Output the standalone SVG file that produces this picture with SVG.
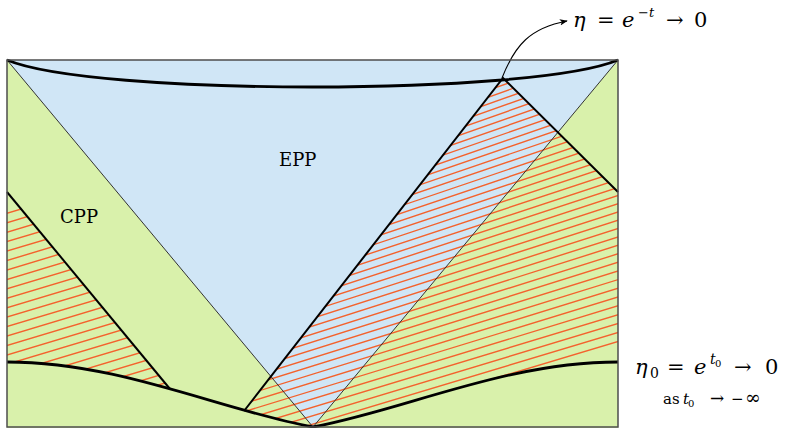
<svg xmlns="http://www.w3.org/2000/svg" width="785" height="428" viewBox="0 0 785 428">
<style>
.green{fill:#d9f1ab}
.blue{fill:#d0e6f6}
.hatch{fill:none;stroke:#f4622d;stroke-width:1.4}
.thin{fill:none;stroke:#333;stroke-width:1}
.thick{fill:none;stroke:#000;stroke-width:2}
.curve{fill:none;stroke:#000;stroke-width:2.8}
.lbl{font-family:"DejaVu Serif","Liberation Serif",serif;fill:#000}
.it{font-style:italic}
</style>
<defs>
<clipPath id="clipL"><polygon points="7,192 170,389 170,440 7,440"/></clipPath>
<clipPath id="clipR"><polygon points="244,411 503,78 618,192 618,440 244,440"/></clipPath>
<marker id="ah" viewBox="0 0 10 10" refX="9" refY="5" markerWidth="8" markerHeight="8" markerUnits="userSpaceOnUse" orient="auto">
<path d="M0,1 L10,5 L0,9 L2.5,5 Z" fill="#000"/>
</marker>
</defs>
<g id="background">
<rect class="green" x="7" y="60" width="611" height="367"/>
<polygon id="epp-region" class="blue" points="7,60 618,60 313,427"/>
</g>
<g id="hatching">
<path class="hatch" clip-path="url(#clipL)" d="M0,215.4L180,161.4M0,224.8L180,170.8M0,234.3L180,180.3M0,243.7L180,189.7M0,253.2L180,199.2M0,262.6L180,208.6M0,272L180,218M0,281.5L180,227.5M0,290.9L180,236.9M0,300.4L180,246.4M0,309.8L180,255.8M0,319.2L180,265.2M0,328.7L180,274.7M0,338.1L180,284.1M0,347.6L180,293.6M0,357L180,303M0,366.4L180,312.4M0,375.9L180,321.9M0,385.3L180,331.3M0,394.8L180,340.8M0,404.2L180,350.2M0,413.6L180,359.6M0,423.1L180,369.1M0,432.5L180,378.5"/>
<path class="hatch" clip-path="url(#clipR)" d="M240,172.8L620,36M240,179.2L620,43M240,185.9L620,50.1M240,192.2L620,57.2M240,198.8L620,64.4M240,205.4L620,71.7M240,212.1L620,79M240,218.8L620,86.3M240,225.6L620,93.7M240,232.5L620,101.2M240,239.3L620,108.7M240,246.3L620,116.3M240,253.3L620,123.9M240,260.4L620,131.6M240,267.5L620,139.3M240,274.6L620,147.1M240,281.9L620,154.9M240,289.1L620,162.8M240,296.5L620,170.8M240,303.9L620,178.8M240,311.3L620,186.8M240,318.8L620,194.9M240,326.3L620,203.1M240,333.9L620,211.3M240,341.6L620,219.6M240,349.3L620,227.9M240,357.1L620,236.3M240,364.9L620,244.7M240,372.7L620,253.2M240,380.7L620,261.7M240,388.6L620,270.3M240,396.7L620,279M240,404.8L620,287.7M240,412.9L620,296.4M240,421.1L620,305.2M240,429.3L620,314.1M240,437.7L620,323M240,446L620,332M240,454.4L620,341"/>
<path id="lower-region" class="green" d="M7,362 C120,362 220,410 313,427 C405,410 505,362 618,362 L618,428 L7,428 Z"/>
</g>
<g id="connectors">
<path class="thin" d="M7,60 L313,427 M618,60 L313,427"/>
<path class="thick" d="M7,192 L170,389"/>
<path class="thick" d="M244,411 L503,78 L618,192"/>
<path class="curve" d="M7,60 C50,78 180,87 312.5,87 C445,87 575,78 618,60"/>
<path class="curve" d="M7,362 C120,362 220,410 313,427 C405,410 505,362 618,362"/>
<path fill="none" stroke="#000" stroke-width="1.1" marker-end="url(#ah)" d="M502,78 C515,45 530,28 567,21"/>
</g>
<g id="frame">
<rect x="7" y="60" width="611" height="367" fill="none" stroke="#4d4d4d" stroke-width="1.5"/>
</g>
<g id="node-epp"><text class="lbl" x="279" y="166" font-size="18">EPP</text></g>
<g id="node-cpp"><text class="lbl" x="60" y="223" font-size="18">CPP</text></g>
<g id="label-eta">
<text class="lbl" y="27" font-size="21"><tspan x="573" class="it">η</tspan><tspan x="597">=</tspan><tspan x="622" class="it">e</tspan><tspan x="638" y="17" font-size="13">−<tspan class="it">t</tspan></tspan><tspan x="666" y="27">→</tspan><tspan x="694">0</tspan></text>
</g>
<g id="label-eta0">
<text class="lbl" y="374" font-size="21"><tspan x="635" class="it">η</tspan><tspan x="650" y="378" font-size="14">0</tspan><tspan x="667" y="374">=</tspan><tspan x="694" class="it">e</tspan><tspan x="710" y="364" font-size="14" class="it">t</tspan><tspan x="715" y="367" font-size="10">0</tspan><tspan x="734" y="374">→</tspan><tspan x="765">0</tspan></text>
<text class="lbl" y="404" font-size="15"><tspan x="663">as</tspan><tspan x="683" class="it">t</tspan><tspan x="688" y="407" font-size="10">0</tspan><tspan x="710" y="404" font-size="17">→</tspan><tspan x="731">−</tspan><tspan x="745" font-size="19">∞</tspan></text>
</g>
</svg>
